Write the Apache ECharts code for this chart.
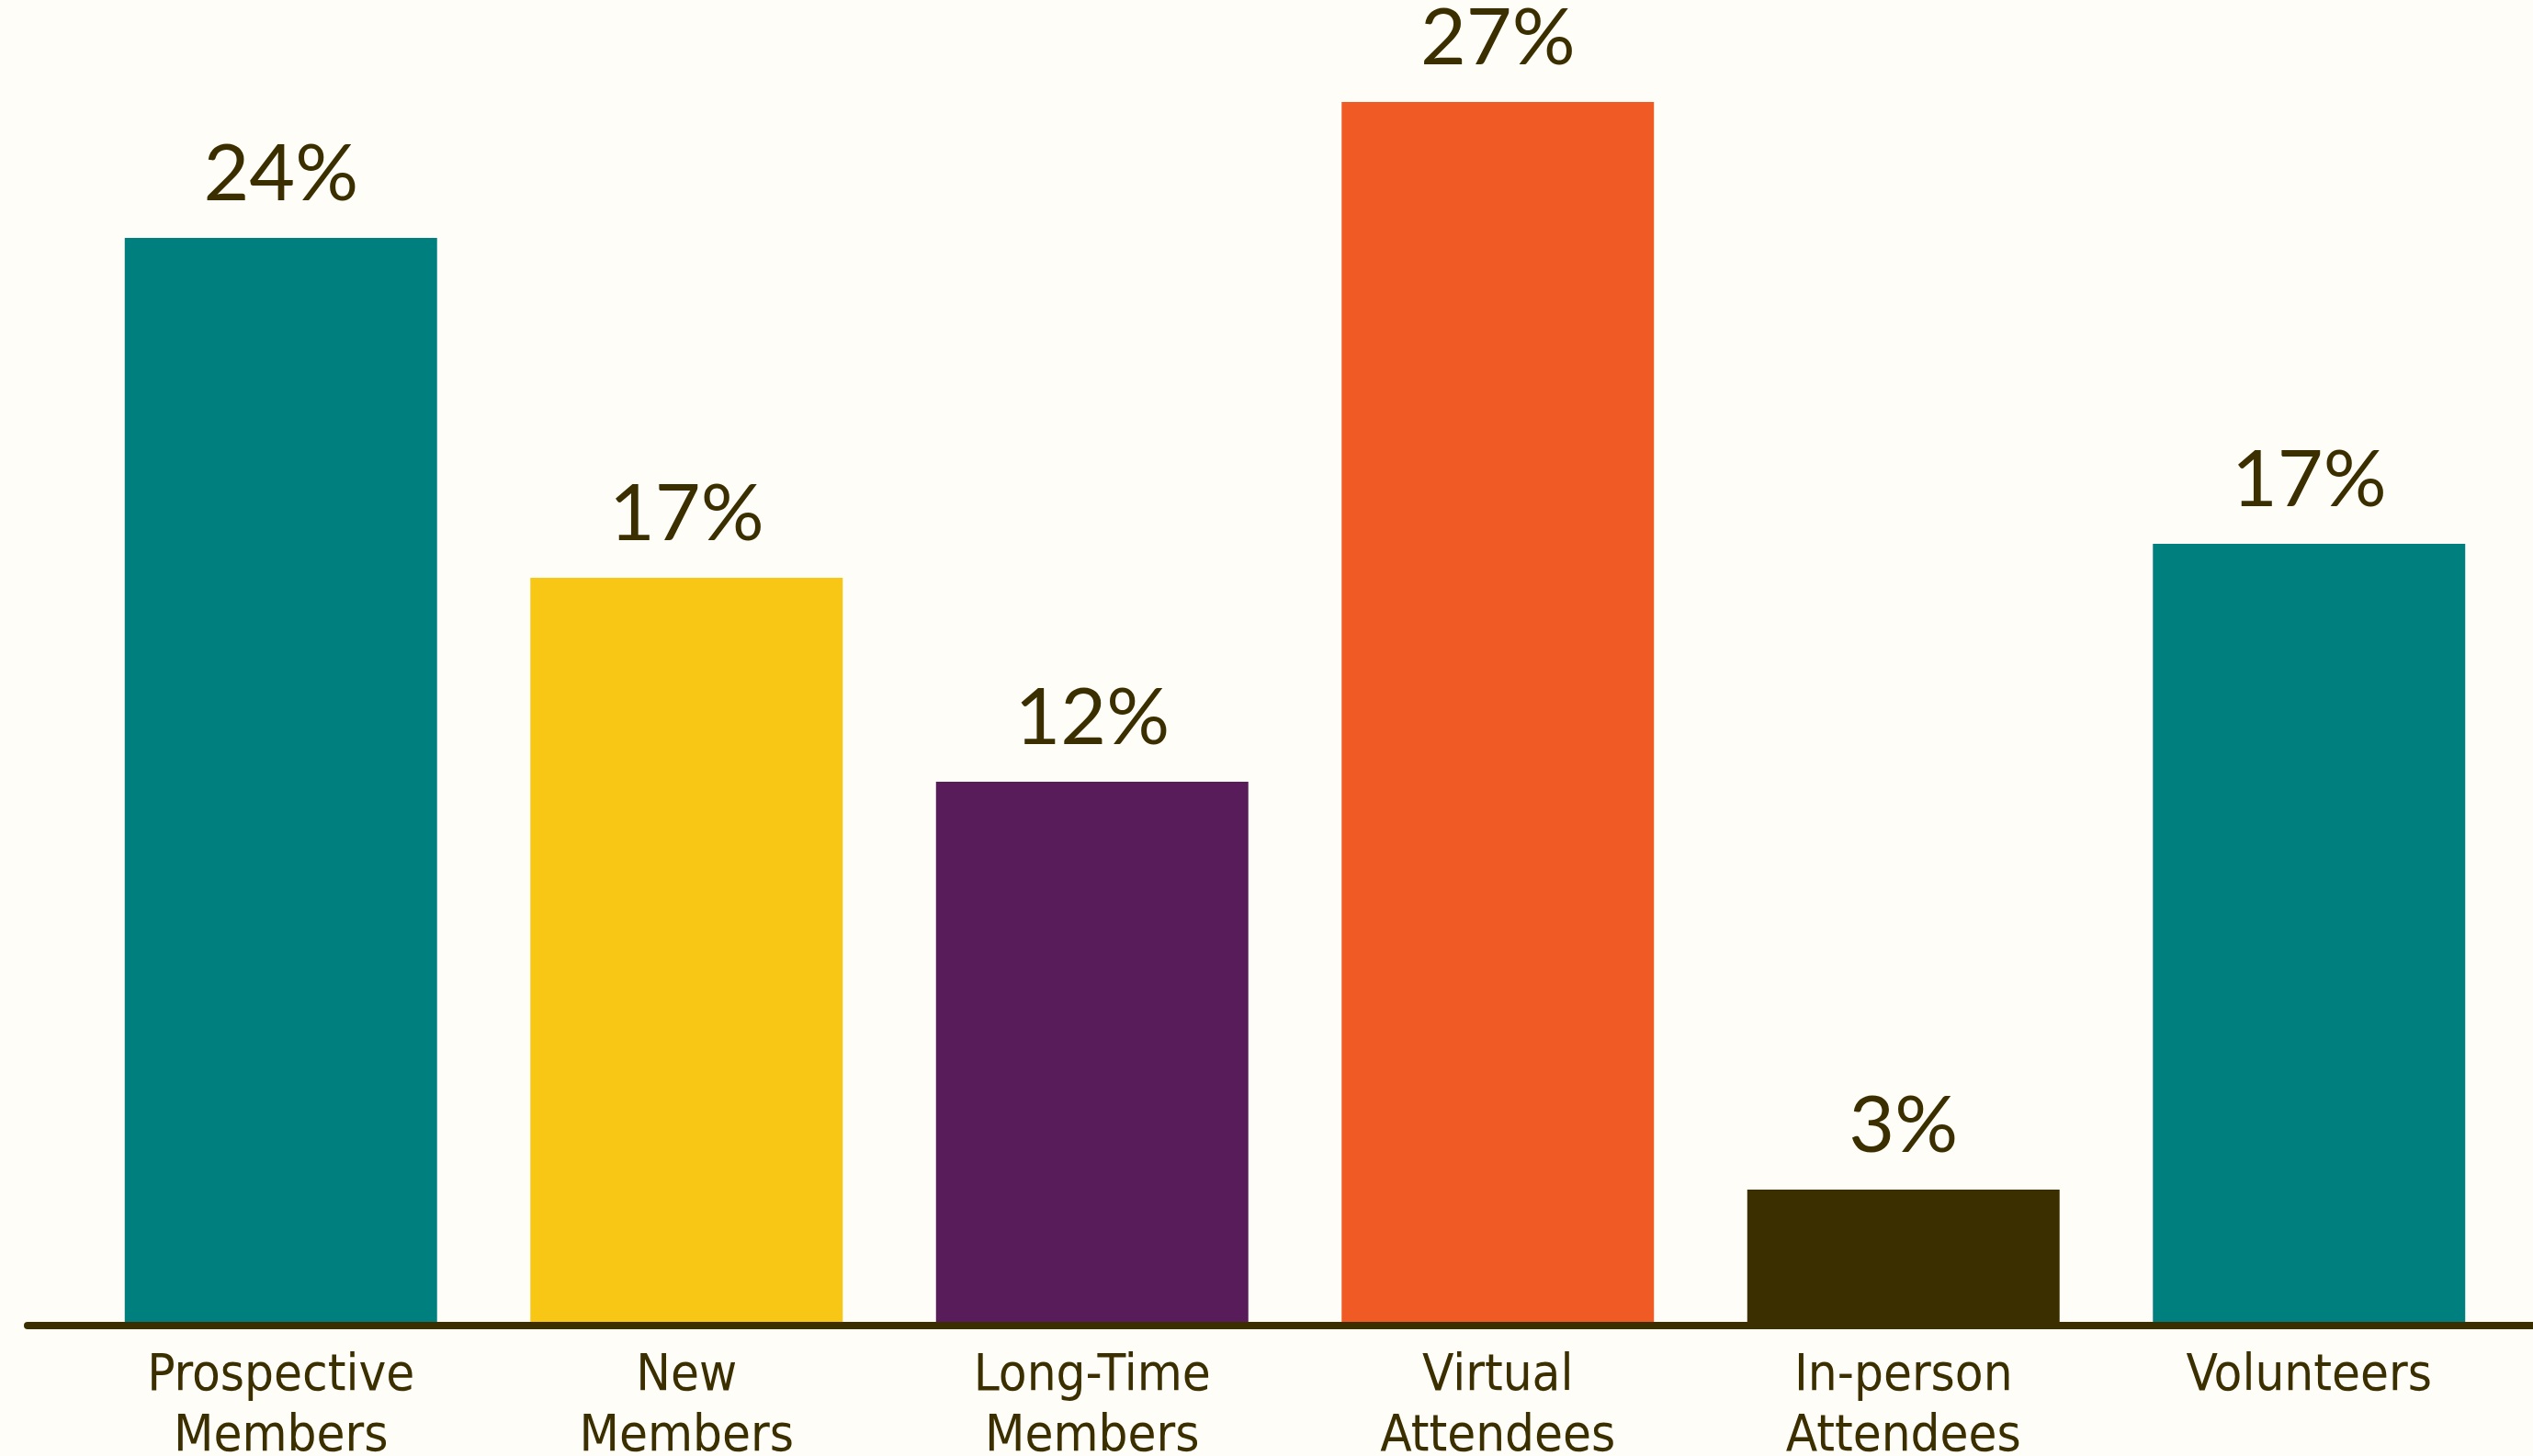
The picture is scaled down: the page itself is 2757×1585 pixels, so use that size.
<!DOCTYPE html>
<html>
<head>
<meta charset="utf-8">
<script src="https://cdn.jsdelivr.net/npm/echarts@6/dist/echarts.min.js"></script>
<style>
html, body { margin: 0; padding: 0; background: #fffdf8; }
#chart { width: 2757px; height: 1585px; }
</style>
</head>
<body>
<div id="chart"></div>
<script>
// data
var categories = ['Prospective\nMembers', 'New\nMembers', 'Long-Time\nMembers', 'Virtual\nAttendees', 'In-person\nAttendees', 'Volunteers'];
var values = [24, 16.5, 12, 27, 3, 17.25];
var barColors = ['#007f7f', '#f8c614', '#581c5a', '#f05a24', '#3b2f00', '#007f7f'];

var textColor = '#3b2f00';

var chart = echarts.init(document.getElementById('chart'));
var option = {
    backgroundColor: '#fffdf8',
    animation: false,
    grid: [
        { left: 85, right: 23, top: 0, bottom: 142, outerBoundsMode: 'none', containLabel: false },
        // only carries the long base line
        { left: 30, right: 0, top: 0, bottom: 142, outerBoundsMode: 'none', containLabel: false }
    ],
    xAxis: [{
        type: 'category',
        gridIndex: 0,
        data: categories,
        axisLine: { show: false },
        axisTick: { show: false },
        axisLabel: {
            color: textColor,
            fontFamily: 'Liberation Sans Narrow, DejaVu Sans Condensed, sans-serif',
            fontSize: 56,
            lineHeight: 66,
            margin: 22
        }
    }, {
        type: 'value',
        gridIndex: 1,
        min: 0, max: 1,
        axisLine: { show: true, lineStyle: { color: '#3b2f00', width: 8 } },
        axisTick: { show: false },
        axisLabel: { show: false },
        splitLine: { show: false },
        z: 10
    }],
    yAxis: [{
        type: 'value',
        gridIndex: 0,
        min: 0,
        max: 29.25,
        show: false,
        splitLine: { show: false }
    }, {
        type: 'value',
        gridIndex: 1,
        show: false,
        splitLine: { show: false }
    }],
    series: [{
        type: 'bar',
        xAxisIndex: 0,
        yAxisIndex: 0,
        barCategoryGap: '23%',
        data: values.map(function (v, i) {
            return { value: v, itemStyle: { color: barColors[i] } };
        }),
        label: {
            show: true,
            position: 'top',
            distance: 26,
            color: textColor,
            fontFamily: 'Lato, Open Sans, sans-serif',
            fontSize: 86,
            formatter: function (p) { return Math.round(p.value) + '%'; }
        }
    }]
};
chart.setOption(option);
</script>
</body>
</html>
